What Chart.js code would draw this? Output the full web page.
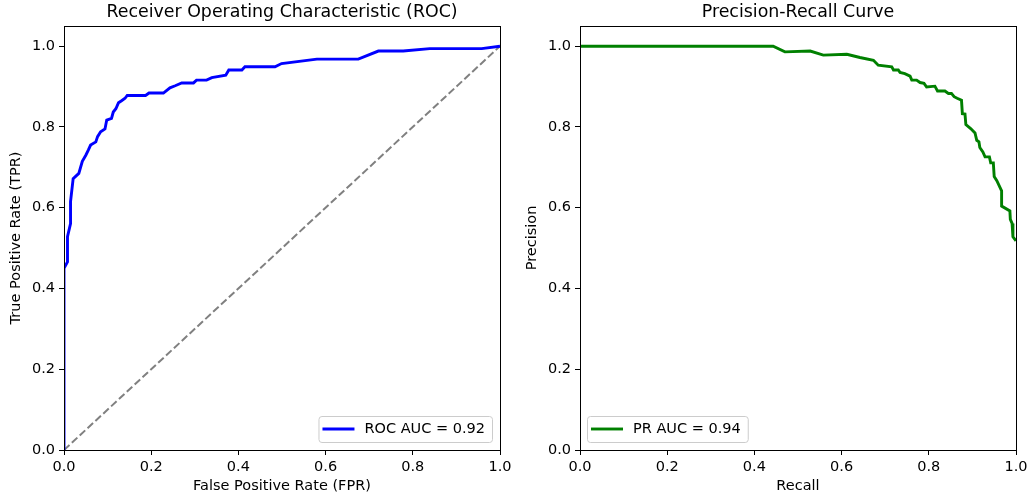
<!DOCTYPE html>
<html>
<head>
<meta charset="utf-8">
<script src="https://cdn.jsdelivr.net/npm/chart.js@4.4.1/dist/chart.umd.min.js"></script>
<style>
  html, body { margin: 0; padding: 0; background: #fff; }
  #wrap { position: relative; width: 1027px; height: 502px; }
  #rocBox { position: absolute; left: 0; top: 0; width: 515px; height: 502px; }
  #prBox { position: absolute; left: 515px; top: 0; width: 512px; height: 502px; }
</style>
</head>
<body>
<div id="wrap">
  <div id="rocBox"><canvas id="rocChart" width="515" height="502"></canvas></div>
  <div id="prBox"><canvas id="prChart" width="512" height="502"></canvas></div>
</div>
<script>
// ROC curve points
const rocFpr = [0, 0, 0.008, 0.008, 0.015, 0.015, 0.021, 0.034, 0.042, 0.05, 0.056, 0.061, 0.073, 0.077,
  0.084, 0.094, 0.098, 0.109, 0.113, 0.119, 0.125, 0.132, 0.14, 0.145, 0.187, 0.195, 0.228, 0.243, 0.255,
  0.27, 0.297, 0.304, 0.327, 0.339, 0.371, 0.378, 0.408, 0.415, 0.484, 0.499, 0.58, 0.675, 0.721, 0.778,
  0.839, 0.958, 1.0];
const rocTpr = [0, 0.45, 0.466, 0.528, 0.561, 0.615, 0.672, 0.685, 0.715, 0.73, 0.743, 0.755, 0.763, 0.776,
  0.788, 0.795, 0.817, 0.821, 0.837, 0.845, 0.86, 0.865, 0.871, 0.878, 0.878, 0.884, 0.884, 0.897, 0.902,
  0.909, 0.909, 0.916, 0.916, 0.922, 0.928, 0.941, 0.941, 0.949, 0.949, 0.957, 0.968, 0.968, 0.988, 0.988,
  0.994, 0.994, 1.0];

// precision-recall curve points
const prRecall = [0, 0.443, 0.47, 0.528, 0.558, 0.612, 0.642, 0.673, 0.684, 0.715, 0.719, 0.73, 0.734,
  0.745, 0.757, 0.761, 0.772, 0.78, 0.789, 0.795, 0.814, 0.82, 0.837, 0.845, 0.852, 0.858, 0.865, 0.875,
  0.877, 0.883, 0.885, 0.896, 0.906, 0.91, 0.915, 0.917, 0.924, 0.929, 0.939, 0.942, 0.948, 0.95, 0.956,
  0.967, 0.967, 0.986, 0.987, 0.991, 0.993, 1.0];
const prPrecision = [1, 1, 0.986, 0.988, 0.978, 0.98, 0.972, 0.965, 0.953, 0.949, 0.941, 0.941, 0.935,
  0.932, 0.926, 0.916, 0.916, 0.91, 0.908, 0.899, 0.901, 0.889, 0.889, 0.883, 0.883, 0.875, 0.871, 0.866,
  0.833, 0.832, 0.806, 0.796, 0.785, 0.767, 0.763, 0.749, 0.738, 0.726, 0.726, 0.711, 0.711, 0.677, 0.667,
  0.642, 0.604, 0.592, 0.571, 0.561, 0.528, 0.518];

const chanceX = [0, 1];
const chanceY = [0, 1];

const tickValues = [0, 0.2, 0.4, 0.6, 0.8, 1.0];

const rocLabel = "ROC AUC = 0.92";
const prLabel = "PR AUC = 0.94";

const FONT = "'DejaVu Sans', sans-serif";
const FS = 14.5;

function toPoints(xs, ys) {
  return xs.map((x, i) => ({ x: x, y: ys[i] }));
}

// title centred over the plot area + full frame + legend box
function decorations(title, legend) {
  return {
    id: "decorations",
    afterDraw(chart) {
      const ctx = chart.ctx;
      const a = chart.chartArea;
      ctx.save();
      ctx.strokeStyle = "#000";
      ctx.lineWidth = 1;
      ctx.strokeRect(Math.round(a.left) + 0.5, Math.round(a.top) + 0.5,
        Math.round(a.right - a.left), Math.round(a.bottom - a.top));

      ctx.fillStyle = "#000";
      ctx.font = "17.4px " + FONT;
      ctx.textAlign = "center";
      ctx.textBaseline = "middle";
      ctx.fillText(title, (a.left + a.right) / 2, 12);

      // legend
      ctx.font = FS + "px " + FONT;
      const textW = ctx.measureText(legend.text).width;
      const w = 4 + 32 + 10 + textW + 7;
      const h = 26;
      const x = legend.side === "right" ? a.right - 8 - w : a.left + 7;
      const y = a.bottom - 8 - h;
      ctx.beginPath();
      ctx.roundRect(x + 0.5, y + 0.5, w, h, 3);
      ctx.fillStyle = "rgba(255,255,255,0.8)";
      ctx.fill();
      ctx.strokeStyle = "#cccccc";
      ctx.lineWidth = 1;
      ctx.stroke();
      ctx.beginPath();
      ctx.moveTo(x + 4, y + 13);
      ctx.lineTo(x + 36, y + 13);
      ctx.strokeStyle = legend.color;
      ctx.lineWidth = 2.9;
      ctx.stroke();
      ctx.fillStyle = "#000";
      ctx.textAlign = "left";
      ctx.textBaseline = "middle";
      ctx.fillText(legend.text, x + 46, y + 13.5);
      ctx.restore();
    }
  };
}

function axis(titleText, isX, fitSize, titlePad) {
  return {
    type: "linear",
    min: 0,
    max: isX ? 1 : 1.05,
    afterBuildTicks: s => { s.ticks = tickValues.map(v => ({ value: v })); },
    afterFit: s => {
      if (isX) { s.height = fitSize; s.paddingLeft = 0; s.paddingRight = 0; }
      else { s.width = fitSize; s.paddingTop = 0; s.paddingBottom = 0; }
    },
    border: { display: false },
    grid: { drawOnChartArea: false, drawTicks: true, tickLength: 5, color: "#000", lineWidth: 1 },
    ticks: {
      color: "#000",
      padding: 4,
      maxRotation: 0,
      font: { family: FONT, size: FS },
      callback: v => Number(v).toFixed(1)
    },
    title: {
      display: true,
      text: titleText,
      color: "#000",
      font: { family: FONT, size: FS },
      padding: titlePad
    }
  };
}

// ROC
new Chart(document.getElementById("rocChart").getContext("2d"), {
  type: "line",
  data: {
    datasets: [{
      label: rocLabel,
      data: toPoints(rocFpr, rocTpr),
      borderColor: "#0000ff",
      borderWidth: 2.9,
      pointRadius: 0,
      tension: 0,
      fill: false
    }, {
      label: "chance",
      data: toPoints(chanceX, chanceY),
      borderColor: "#808080",
      borderWidth: 2,
      borderDash: [7.5, 3.2],
      pointRadius: 0,
      tension: 0,
      fill: false
    }]
  },
  options: {
    responsive: false,
    animation: false,
    devicePixelRatio: 1,
    layout: { padding: { top: 26, right: 15, left: 0, bottom: 0 } },
    plugins: { legend: { display: false }, tooltip: { enabled: false } },
    scales: {
      x: axis("False Positive Rate (FPR)", true, 52, { top: 4, bottom: 7 }),
      y: axis("True Positive Rate (TPR)", false, 64, { top: 8, bottom: 0 })
    }
  },
  plugins: [decorations("Receiver Operating Characteristic (ROC)", { text: rocLabel, color: "#0000ff", side: "right" })]
});

// Precision-Recall
new Chart(document.getElementById("prChart").getContext("2d"), {
  type: "line",
  data: {
    datasets: [{
      label: prLabel,
      data: toPoints(prRecall, prPrecision),
      borderColor: "#008000",
      borderWidth: 2.9,
      pointRadius: 0,
      tension: 0,
      fill: false
    }]
  },
  options: {
    responsive: false,
    animation: false,
    devicePixelRatio: 1,
    layout: { padding: { top: 26, right: 11, left: 0, bottom: 0 } },
    plugins: { legend: { display: false }, tooltip: { enabled: false } },
    scales: {
      x: axis("Recall", true, 52, { top: 4, bottom: 7 }),
      y: axis("Precision", false, 65, { top: 9, bottom: 0 })
    }
  },
  plugins: [decorations("Precision-Recall Curve", { text: prLabel, color: "#008000", side: "left" })]
});
</script>
</body>
</html>
